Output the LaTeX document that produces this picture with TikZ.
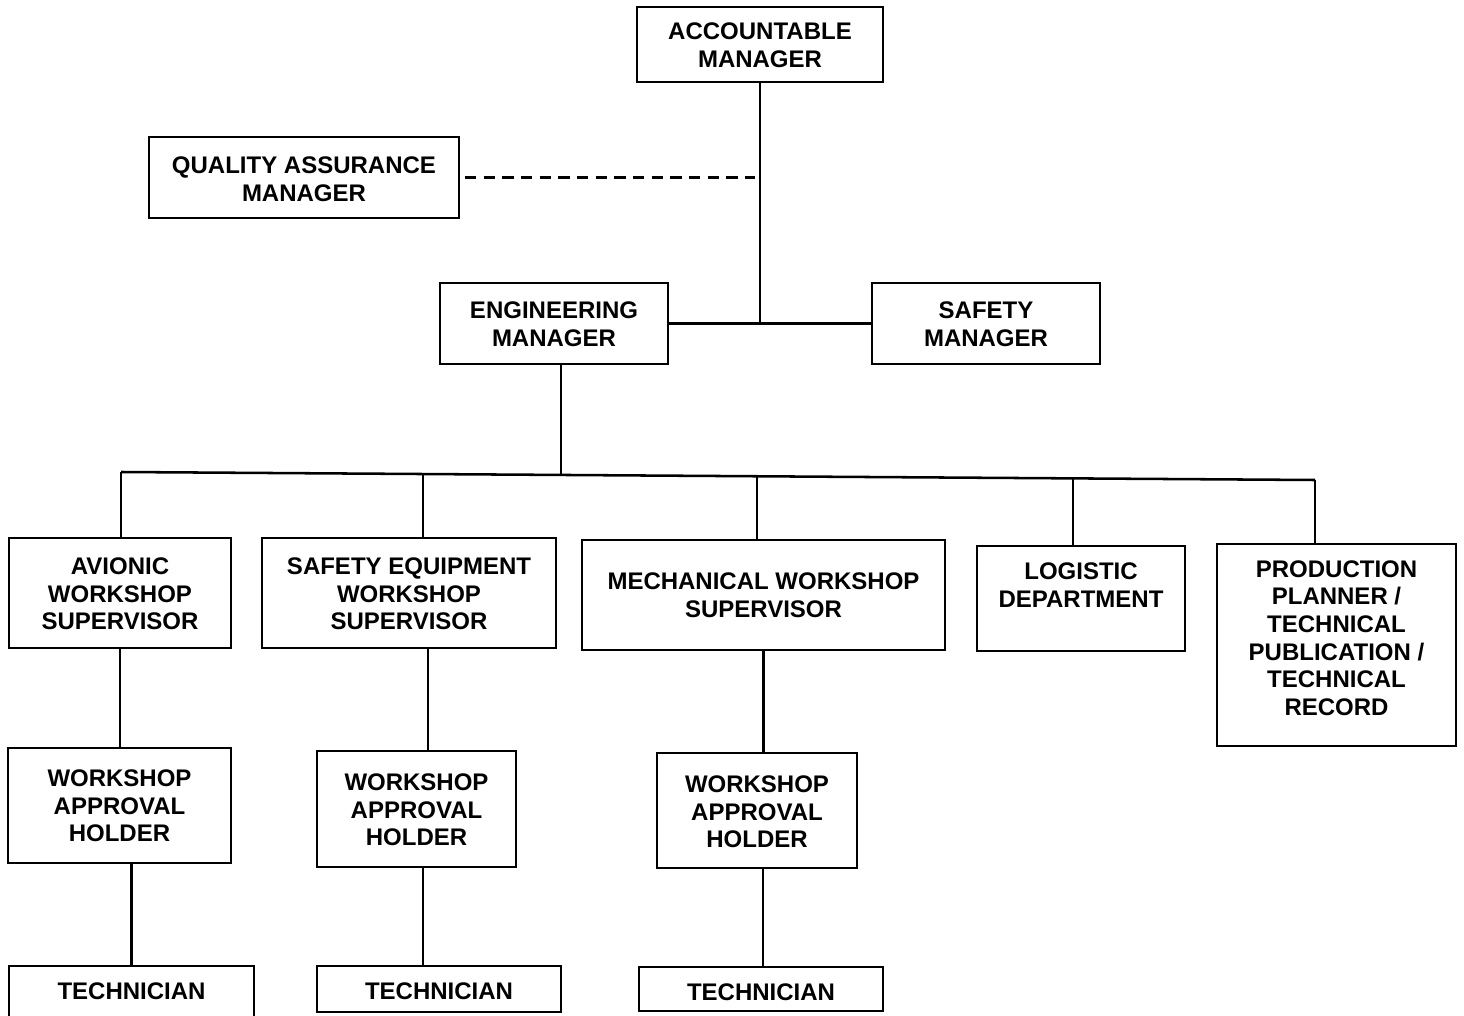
\documentclass[tikz,border=0pt]{standalone}
\usepackage{fontspec}
\setmainfont{Liberation Sans}
\usetikzlibrary{calc}

% \orgbox{name}{x1}{y1}{x2}{y2}{text centre y}{text}
\newcommand{\orgbox}[7]{%
  \pgfmathsetmacro{\obw}{(#4-#2)*0.75}%
  \pgfmathsetmacro{\obh}{(#5-#3)*0.75}%
  \node[box, minimum width=\obw pt, minimum height=\obh pt] (#1) at ({(#2+#4)/2},{(#3+#5)/2}) {};
  \node[boxtext] (#1-t) at ({(#2+#4)/2},#6) {#7};
}

\tikzset{
  box/.style={draw=black, line width=0.9pt, rectangle, inner sep=0pt, fill=white},
  boxtext/.style={font=\bfseries\fontsize{18}{20.7}\selectfont, align=center, inner sep=0pt},
  conn/.style={draw=black, line width=1.9pt},
  advisory/.style={draw=black, line width=1.9pt, dash pattern=on 8.5pt off 5.5pt}
}

\begin{document}
\begin{tikzpicture}[x=0.75pt, y=-0.75pt]
  \path[use as bounding box, fill=white] (0,0) rectangle (1464,1016);

  % top management
  \orgbox{acc}{637}{7}{883}{82}{45}{ACCOUNTABLE\\MANAGER}
  \orgbox{qa}{149}{137}{459}{218}{179}{QUALITY ASSURANCE\\MANAGER}
  \orgbox{eng}{440}{283}{668}{364}{324}{ENGINEERING\\MANAGER}
  \orgbox{safe}{872}{283}{1100}{364}{324}{SAFETY\\MANAGER}

  % sections under engineering
  \orgbox{av}{9}{538}{231}{648}{594}{AVIONIC\\WORKSHOP\\SUPERVISOR}
  \orgbox{se}{262}{538}{556}{648}{594}{SAFETY EQUIPMENT\\WORKSHOP\\SUPERVISOR}
  \orgbox{mech}{582}{540}{945}{650}{595}{MECHANICAL WORKSHOP\\SUPERVISOR}
  \orgbox{log}{977}{546}{1185}{651}{585}{LOGISTIC\\DEPARTMENT}
  \orgbox{prod}{1217}{544}{1456}{746}{638}{PRODUCTION\\PLANNER /\\TECHNICAL\\PUBLICATION /\\TECHNICAL\\RECORD}

  % approval holders
  \orgbox{wah1}{8}{748}{231}{863}{806}{WORKSHOP\\APPROVAL\\HOLDER}
  \orgbox{wah2}{317}{751}{516}{867}{810}{WORKSHOP\\APPROVAL\\HOLDER}
  \orgbox{wah3}{657}{753}{857}{868}{812}{WORKSHOP\\APPROVAL\\HOLDER}

  % technicians
  \orgbox{t1}{9}{966}{254}{1020}{991}{TECHNICIAN}
  \orgbox{t2}{317}{966}{561}{1012}{991}{TECHNICIAN}
  \orgbox{t3}{639}{967}{883}{1011}{992}{TECHNICIAN}

  % accountable manager line
  \draw[conn] (acc.south) -- (acc.south |- eng.east);
  \draw[conn] (eng.east) -- (safe.west);
  \draw[advisory, shorten <=4pt, shorten >=3.75pt] (qa.east) -- (qa.east -| acc.south);

  % engineering distribution bus
  \coordinate (busL) at (121,472);
  \coordinate (busR) at (1315,480);
  \coordinate (b0) at ($(busL)!0.3685!(busR)$);
  \coordinate (b2) at ($(busL)!0.2529!(busR)$);
  \coordinate (b3) at ($(busL)!0.5327!(busR)$);
  \coordinate (b4) at ($(busL)!0.7973!(busR)$);
  \draw[conn] (busL) -- (busR);
  \draw[conn] (b0 |- eng.south) -- (b0);
  \draw[conn] (busL) -- (busL |- av.north);
  \draw[conn] (b2) -- (b2 |- se.north);
  \draw[conn] (b3) -- (b3 |- mech.north);
  \draw[conn] (b4) -- (b4 |- log.north);
  \draw[conn] (busR) -- (busR |- prod.north);

  % supervisors to approval holders to technicians
  \draw[conn] (av.south) -- (av.south |- wah1.north);
  \draw[conn] (t1.north |- wah1.south) -- (t1.north);
  \draw[conn] ([xshift=14.25pt]se.south) -- ([xshift=14.25pt]se.south |- wah2.north);
  \draw[conn] ([xshift=4.9pt]wah2.south) -- ([xshift=4.9pt]wah2.south |- t2.north);
  \draw[conn] (mech.south) -- (mech.south |- wah3.north);
  \draw[conn] ([xshift=1.5pt]t3.north |- wah3.south) -- ([xshift=1.5pt]t3.north);
\end{tikzpicture}
\end{document}
